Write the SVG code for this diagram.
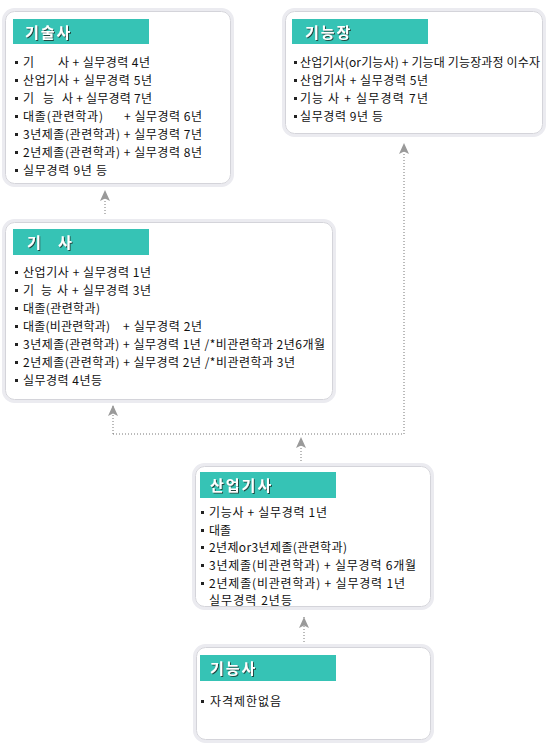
<svg xmlns="http://www.w3.org/2000/svg" width="550" height="750" viewBox="0 0 550 750">
<defs>
<style>
.outer{fill:none;stroke:#ebebf0;stroke-width:3}
.inner{fill:#fff;stroke:#d4d4da;stroke-width:1}
.hdr{fill:#36c3b5}
.ht{font-family:"Noto Sans CJK KR","Noto Sans",sans-serif;font-size:15px;font-weight:bold;fill:#fff;letter-spacing:2px;filter:url(#sh)}
.t{font-family:"Noto Sans CJK KR","Noto Sans",sans-serif;font-size:12px;fill:#111}
.b{fill:#222}
.con{fill:none;stroke:#777;stroke-width:1;stroke-dasharray:1 2}
</style>
<filter id="sh" x="-10%" y="-20%" width="130%" height="150%">
<feDropShadow dx="1" dy="1" stdDeviation="0.3" flood-color="#1d3a36" flood-opacity="0.9"/>
</filter>
<marker id="ah" markerUnits="userSpaceOnUse" viewBox="0 0 11 11" refX="11" refY="5.5" markerWidth="11" markerHeight="11" orient="auto">
<path d="M11 5.5 L0 0.5 L2.5 5.5 L0 10.5 Z" fill="#9a9a9a"/>
</marker>
</defs>
<rect width="550" height="750" fill="#fff"/>

<g id="connectors">
<path class="con" d="M105 214 V190" marker-end="url(#ah)"/>
<path class="con" d="M301 461 V437" marker-end="url(#ah)"/>
<path class="con" d="M113 434 H404"/>
<path class="con" d="M113 434 V405" marker-end="url(#ah)"/>
<path class="con" d="M404 434 V143" marker-end="url(#ah)"/>
<path class="con" d="M304 642 V617" marker-end="url(#ah)"/>
</g>

<g id="node-gisulsa">
<rect class="outer" x="3.5" y="9.5" width="229" height="176" rx="11"/>
<rect class="inner" x="5.5" y="11.5" width="225" height="172" rx="9"/>
<rect class="hdr" x="13" y="19" width="136" height="25"/>
<text class="ht" x="25" y="38">기술사</text>
<g class="b"><rect x="15" y="61" width="3" height="3"/><rect x="15" y="79" width="3" height="3"/><rect x="15" y="97" width="3" height="3"/><rect x="15" y="115" width="3" height="3"/><rect x="15" y="133" width="3" height="3"/><rect x="15" y="151" width="3" height="3"/><rect x="15" y="169" width="3" height="3"/></g>
<text class="t" x="23" y="67">기<tspan x="58" textLength="92" lengthAdjust="spacing">사 + 실무경력 4년</tspan></text>
<text class="t" x="23" y="85" textLength="129" lengthAdjust="spacing">산업기사 + 실무경력 5년</text>
<text class="t" x="23" y="103">기<tspan x="43">능</tspan><tspan x="62" textLength="90" lengthAdjust="spacing">사 + 실무경력 7년</tspan></text>
<text class="t" x="23" y="121"><tspan textLength="80" lengthAdjust="spacing">대졸(관련학과)</tspan><tspan x="124" textLength="78" lengthAdjust="spacing">+ 실무경력 6년</tspan></text>
<text class="t" x="23" y="139" textLength="179" lengthAdjust="spacing">3년제졸(관련학과) + 실무경력 7년</text>
<text class="t" x="23" y="157" textLength="179" lengthAdjust="spacing">2년제졸(관련학과) + 실무경력 8년</text>
<text class="t" x="23" y="175" textLength="84" lengthAdjust="spacing">실무경력 9년 등</text>
</g>

<g id="node-gineungjang">
<rect class="outer" x="283.5" y="9.5" width="261" height="126" rx="11"/>
<rect class="inner" x="285.5" y="11.5" width="257" height="122" rx="9"/>
<rect class="hdr" x="292" y="19" width="136" height="25"/>
<text class="ht" x="305" y="38">기능장</text>
<g class="b"><rect x="294" y="61" width="3" height="3"/><rect x="294" y="79" width="3" height="3"/><rect x="294" y="97" width="3" height="3"/><rect x="294" y="115" width="3" height="3"/></g>
<text class="t" x="300" y="67" textLength="240" lengthAdjust="spacing">산업기사(or기능사) + 기능대 기능장과정 이수자</text>
<text class="t" x="300" y="85" textLength="128" lengthAdjust="spacing">산업기사 + 실무경력 5년</text>
<text class="t" x="300" y="103">기<tspan x="312">능</tspan><tspan x="328" textLength="100" lengthAdjust="spacing">사 + 실무경력 7년</tspan></text>
<text class="t" x="300" y="121" textLength="83" lengthAdjust="spacing">실무경력 9년 등</text>
</g>

<g id="node-gisa">
<rect class="outer" x="3.5" y="220.5" width="331" height="181" rx="11"/>
<rect class="inner" x="5.5" y="222.5" width="327" height="177" rx="9"/>
<rect class="hdr" x="13" y="229" width="136" height="26"/>
<text class="ht" x="27" y="248">기<tspan x="58">사</tspan></text>
<g class="b"><rect x="15" y="271" width="3" height="3"/><rect x="15" y="289" width="3" height="3"/><rect x="15" y="307" width="3" height="3"/><rect x="15" y="325" width="3" height="3"/><rect x="15" y="343" width="3" height="3"/><rect x="15" y="361" width="3" height="3"/><rect x="15" y="379" width="3" height="3"/></g>
<text class="t" x="23" y="277" textLength="128" lengthAdjust="spacing">산업기사 + 실무경력 1년</text>
<text class="t" x="23" y="295">기<tspan x="41">능</tspan><tspan x="57" textLength="94" lengthAdjust="spacing">사 + 실무경력 3년</tspan></text>
<text class="t" x="23" y="313" textLength="77" lengthAdjust="spacing">대졸(관련학과)</text>
<text class="t" x="23" y="331"><tspan textLength="87" lengthAdjust="spacing">대졸(비관련학과)</tspan><tspan x="123" textLength="79" lengthAdjust="spacing">+ 실무경력 2년</tspan></text>
<text class="t" x="23" y="349" textLength="302" lengthAdjust="spacing">3년제졸(관련학과) + 실무경력 1년 /*비관련학과 2년6개월</text>
<text class="t" x="23" y="367" textLength="272" lengthAdjust="spacing">2년제졸(관련학과) + 실무경력 2년 /*비관련학과 3년</text>
<text class="t" x="23" y="385" textLength="79" lengthAdjust="spacing">실무경력 4년등</text>
</g>

<g id="node-sanupgisa">
<rect class="outer" x="193.5" y="464.5" width="239" height="144" rx="11"/>
<rect class="inner" x="195.5" y="466.5" width="235" height="140" rx="9"/>
<rect class="hdr" x="200" y="472" width="136" height="26"/>
<text class="ht" x="210" y="491">산업기사</text>
<g class="b"><rect x="201" y="511" width="3" height="3"/><rect x="201" y="529" width="3" height="3"/><rect x="201" y="546" width="3" height="3"/><rect x="201" y="564" width="3" height="3"/><rect x="201" y="582" width="3" height="3"/></g>
<text class="t" x="209" y="517" textLength="118" lengthAdjust="spacing">기능사 + 실무경력 1년</text>
<text class="t" x="209" y="535">대졸</text>
<text class="t" x="209" y="552" textLength="138" lengthAdjust="spacing">2년제or3년제졸(관련학과)</text>
<text class="t" x="209" y="570" textLength="207" lengthAdjust="spacing">3년제졸(비관련학과) + 실무경력 6개월</text>
<text class="t" x="209" y="588" textLength="196" lengthAdjust="spacing">2년제졸(비관련학과) + 실무경력 1년</text>
<text class="t" x="209" y="605" textLength="83" lengthAdjust="spacing">실무경력 2년등</text>
</g>

<g id="node-gineungsa">
<rect class="outer" x="194.5" y="645.5" width="238" height="96" rx="11"/>
<rect class="inner" x="196.5" y="647.5" width="234" height="92" rx="9"/>
<rect class="hdr" x="200" y="655" width="136" height="26"/>
<text class="ht" x="210" y="674">기능사</text>
<rect class="b" x="201" y="700" width="3" height="3"/>
<text class="t" x="210" y="706" textLength="71" lengthAdjust="spacing">자격제한없음</text>
</g>
</svg>
